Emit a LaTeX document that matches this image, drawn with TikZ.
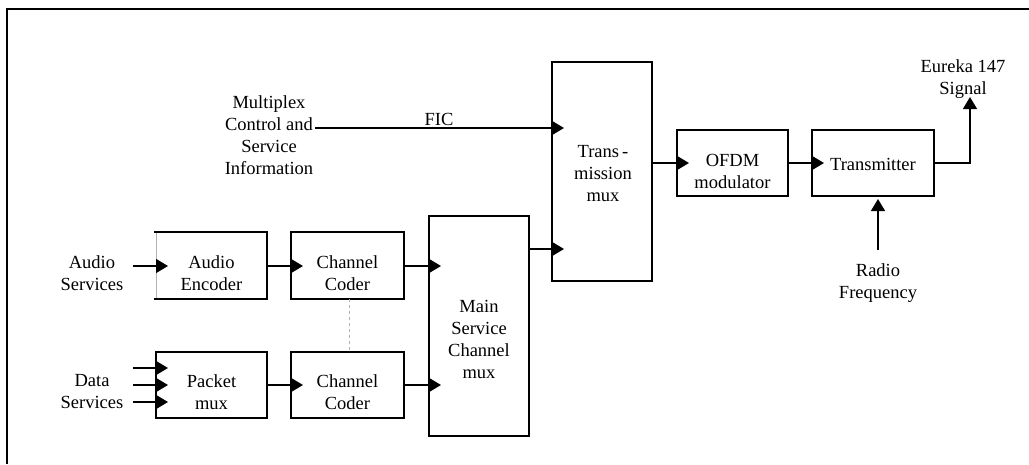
\documentclass[tikz,border=0pt]{standalone}
\usepackage{fontspec}
\setmainfont{Liberation Serif}
\usetikzlibrary{arrows.meta}
\tikzset{
  x=1pt, y=-1pt,
  box/.style={draw, line width=1.5pt, inner sep=0pt, outer sep=0pt},
  txt/.style={align=center, inner sep=0pt, font=\fontsize{18.5}{22}\selectfont},
  arr/.style={line width=1.5pt, -{Triangle[length=12pt,width=14pt]}, shorten >=-12pt},
  arrout/.style={line width=1.5pt, -{Triangle[length=12pt,width=14pt]}},
}
\begin{document}
\begin{tikzpicture}
\useasboundingbox (0,0) rectangle (1029,464);
% frame (clipped: only top and left edges visible)
\draw[line width=1.5pt] (7,464) -- (7,9) -- (1029,9);

% boxes
\node[box, draw=none, minimum width=111pt, minimum height=67pt] (ae) at (211.5,265.5) {};
\draw[line width=0.6pt, gray!60] (ae.south west) -- (ae.north west);
\draw[line width=1.5pt] ([xshift=-2pt]ae.north west) -- (ae.north east) -- (ae.south east) -- ([xshift=-2pt]ae.south west);
\node[box, minimum width=113pt, minimum height=67pt] (cc1) at (347.5,265.5) {};
\node[box, minimum width=111pt, minimum height=66pt] (pm) at (211.5,385) {};
\node[box, minimum width=113pt, minimum height=66pt] (cc2) at (347.5,385) {};
\node[box, minimum width=100pt, minimum height=220pt] (msc) at (479,326) {};
\node[box, minimum width=100pt, minimum height=219pt] (tm) at (602,171.5) {};
\node[box, minimum width=111pt, minimum height=66pt] (ofdm) at (732.5,163) {};
\node[box, minimum width=122pt, minimum height=66pt] (tx) at (873,163) {};

% box texts
\node[txt] (tae) at (211.5,273) {Audio\\Encoder};
\node[txt] (tcc1) at (347.5,273) {Channel\\Coder};
\node[txt] (tpm) at (211.5,392) {Packet\\mux};
\node[txt] (tcc2) at (347.5,392) {Channel\\Coder};
\node[txt] (tmsc) at (479,339) {Main\\Service\\Channel\\mux};
\node[txt] (ttm) at (603,174) {Trans\,-\\mission\\mux};
\node[txt] (tofdm) at (732.5,171) {OFDM\\modulator};
\node[txt] (ttx) at (873,164) {Transmitter};

% free texts
\node[txt] (mux) at (269,135) {Multiplex\\Control and\\Service\\Information};
\node[txt] (fic) at (439,119) {FIC};
\node[txt] (aus) at (92,273) {Audio\\Services};
\node[txt] (das) at (92,392) {Data\\Services};
\node[txt] (eur) at (963,79) {Eureka 147\\Signal};
\node[txt] (rfq) at (878,283) {Radio\\Frequency};

% coordinates
\coordinate (ficS) at (315,128);
\coordinate (a0) at (133,266);
\coordinate (d1) at (133,368);
\coordinate (d2) at (133,385);
\coordinate (d3) at (133,402);
\coordinate (m1) at (0,249);
\coordinate (sig) at (970,97);
\coordinate (rf) at (878,250);

% connectors
\draw[arr] (ficS) -- (ficS -| tm.west);
\draw[arr] (a0) -- (a0 -| ae.west);
\draw[arr] (d1) -- (d1 -| pm.west);
\draw[arr] (d2) -- (d2 -| pm.west);
\draw[arr] (d3) -- (d3 -| pm.west);
\draw[arr] (ae.east |- a0) -- (cc1.west |- a0);
\draw[arr] (cc1.east |- a0) -- (msc.west |- a0);
\draw[arr] (pm.east |- d2) -- (cc2.west |- d2);
\draw[arr] (cc2.east |- d2) -- (msc.west |- d2);
\draw[arr] (msc.east |- m1) -- (tm.west |- m1);
\draw[arr] (tm.east |- tx.west) -- (ofdm.west);
\draw[arr] (ofdm.east) -- (tx.west);
\draw[arrout] (tx.east) -| (sig);
\draw[arrout, shorten >=3pt] (rf) -- (rf |- tx.south);
\draw[gray!60, line width=0.6pt, dashed] ([xshift=1.5pt]cc1.south) -- ([xshift=1.5pt]cc2.north);
\end{tikzpicture}
\end{document}
